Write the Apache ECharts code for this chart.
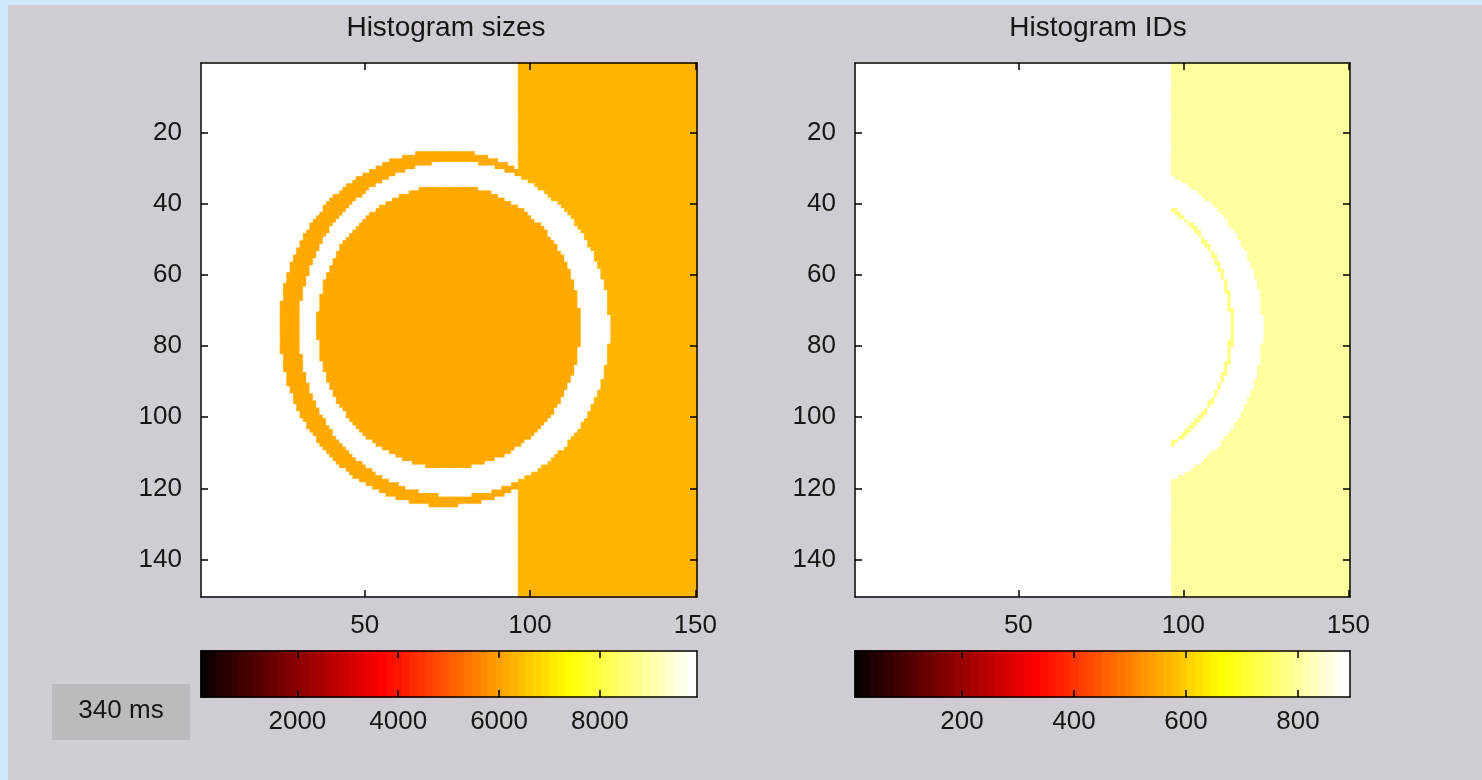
<!DOCTYPE html>
<html>
<head>
<meta charset="utf-8">
<script src="https://cdn.jsdelivr.net/npm/echarts@6/dist/echarts.min.js"></script>
<style>
html,body{margin:0;padding:0;background:#cde9fb;overflow:hidden;}
#panel{position:absolute;left:8px;top:5px;width:1474px;height:775px;background:#d1cbd4;}
#chart{position:absolute;left:0;top:0;width:1482px;height:780px;}
</style>
</head>
<body>
<div id="panel"></div>
<div id="chart"></div>
<script>
// ---- data ----
const imageColumns = 150;
const imageRows = 150;
const stripFirstColumn = 97;               // right band starts at this column
// circles in image cells: [centre column, centre row, radius]
const ringOuterCircle = [74.4, 75.2, 50.0];
const gapOuterCircle = [77.3, 75.4, 46.9];
const diskCircle = [75.6, 74.8, 39.8];
const edgeArcWidth = 1.2;

const sizeLimits = [88, 9926];
const idLimits = [9, 893];
// Histogram sizes: background, band, ring, disk
const sizeRegionValues = [9926, 6300, 6150, 6150];
// Histogram IDs: background, band, disk-edge arc
const idRegionValues = [893, 803, 775];

const imageTicksX = [50, 100, 150];
const imageTicksY = [20, 40, 60, 80, 100, 120, 140];
const sizeBarTicks = [2000, 4000, 6000, 8000];
const idBarTicks = [200, 400, 600, 800];
const panelTitles = ['Histogram sizes', 'Histogram IDs'];
const timerLabel = '340 ms';
const colormapLength = 64;

// ---- build ----
function inside(circle, c, r, shrink) {
  const dx = c - circle[0], dy = r - circle[1], R = circle[2] - (shrink || 0);
  return dx * dx + dy * dy <= R * R;
}
function sizeCell(c, r) {
  if (inside(diskCircle, c, r)) return sizeRegionValues[3];
  if (inside(gapOuterCircle, c, r)) return sizeRegionValues[0];
  if (c >= stripFirstColumn) return sizeRegionValues[1];
  if (inside(ringOuterCircle, c, r)) return sizeRegionValues[2];
  return sizeRegionValues[0];
}
function idCell(c, r) {
  if (c < stripFirstColumn) return idRegionValues[0];
  if (inside(diskCircle, c, r)) {
    return inside(diskCircle, c, r, edgeArcWidth) ? idRegionValues[0] : idRegionValues[2];
  }
  if (inside(gapOuterCircle, c, r)) return idRegionValues[0];
  return idRegionValues[1];
}
function hotColor(k) {
  const cl = v => Math.min(1, Math.max(0, v));
  const r = cl(k / 24), g = cl((k - 24) / 24), b = cl((k - 48) / 16);
  return 'rgb(' + Math.round(r * 255) + ',' + Math.round(g * 255) + ',' + Math.round(b * 255) + ')';
}
function colorIndex(v, lim) {
  const k = Math.floor((v - lim[0]) / (lim[1] - lim[0]) * colormapLength) + 1;
  return Math.min(colormapLength, Math.max(1, k));
}
const colCats = [], rowCats = [];
for (let i = 1; i <= imageColumns; i++) colCats.push(i);
for (let i = 1; i <= imageRows; i++) rowCats.push(i);
function cellItem(c, r, v, lim) {
  // edge drawn in the cell's own colour so neighbouring cells meet without seams
  return { value: [c - 1, r - 1, v], itemStyle: { borderColor: hotColor(colorIndex(v, lim)), borderWidth: 0.8 } };
}
const sizeData = [], idData = [];
for (let r = 1; r <= imageRows; r++) {
  for (let c = 1; c <= imageColumns; c++) {
    sizeData.push(cellItem(c, r, sizeCell(c, r), sizeLimits));
    idData.push(cellItem(c, r, idCell(c, r), idLimits));
  }
}
function pieces(lim) {
  const step = (lim[1] - lim[0]) / colormapLength;
  const out = [];
  for (let k = 1; k <= colormapLength; k++) {
    const p = { gte: lim[0] + (k - 1) * step, color: hotColor(k) };
    if (k === colormapLength) p.lte = lim[1] + 1e-6; else p.lt = lim[0] + k * step;
    out.push(p);
  }
  return out;
}
function barData(lim) {
  const step = (lim[1] - lim[0]) / colormapLength;
  const d = [];
  for (let k = 0; k < colormapLength; k++) {
    d.push({ value: [k, 0, lim[0] + (k + 0.5) * step], itemStyle: { borderColor: hotColor(k + 1), borderWidth: 0.8 } });
  }
  return d;
}
const barCats = [];
for (let k = 1; k <= colormapLength; k++) barCats.push(k);

const FONT = "'Liberation Sans', Arial, Helvetica, sans-serif";
const TXT = '#161616';
const lineStyle = { color: '#000', width: 1.5 };

const G = {
  sizeImg: { left: 201, top: 63, width: 496, height: 534 },
  idImg: { left: 855, top: 63, width: 495, height: 534 },
  sizeBar: { left: 201, top: 651, width: 496, height: 46 },
  idBar: { left: 855, top: 651, width: 495, height: 46 }
};
const grids = [G.sizeImg, G.sizeImg, G.idImg, G.idImg, G.sizeBar, G.sizeBar, G.idBar, G.idBar]
  .map((g, i) => Object.assign({ containLabel: false, outerBoundsMode: 'none',
    show: i === 0 || i === 2, backgroundColor: '#ffffff', borderWidth: 0 }, g));

function hiddenCat(gridIndex, data, inverse) {
  return { type: 'category', gridIndex, data, show: false, inverse: !!inverse, boundaryGap: true };
}
function tickAxis(gridIndex, position, min, max, ticks, showLabels, inverse, margin) {
  return {
    type: 'value', gridIndex, position, min, max, inverse: !!inverse, z: 10,
    axisLine: { show: true, onZero: false, lineStyle },
    axisTick: { show: !!ticks, inside: true, length: 7, lineStyle, customValues: ticks || [] },
    axisLabel: {
      show: showLabels, customValues: ticks || [], color: TXT, fontSize: 26, fontFamily: FONT,
      margin: margin, hideOverlap: false, formatter: v => String(v)
    },
    splitLine: { show: false }
  };
}

const xAxis = [
  hiddenCat(0, colCats),
  tickAxis(1, 'bottom', 0.5, imageColumns + 0.5, imageTicksX, true, false, 16),
  tickAxis(1, 'top', 0.5, imageColumns + 0.5, imageTicksX, false),
  hiddenCat(2, colCats),
  tickAxis(3, 'bottom', 0.5, imageColumns + 0.5, imageTicksX, true, false, 16),
  tickAxis(3, 'top', 0.5, imageColumns + 0.5, imageTicksX, false),
  hiddenCat(4, barCats),
  tickAxis(5, 'bottom', sizeLimits[0], sizeLimits[1], sizeBarTicks, true, false, 12),
  tickAxis(5, 'top', sizeLimits[0], sizeLimits[1], sizeBarTicks, false),
  hiddenCat(6, barCats),
  tickAxis(7, 'bottom', idLimits[0], idLimits[1], idBarTicks, true, false, 12),
  tickAxis(7, 'top', idLimits[0], idLimits[1], idBarTicks, false)
];
const yAxis = [
  hiddenCat(0, rowCats, true),
  tickAxis(1, 'left', 0.5, imageRows + 0.5, imageTicksY, true, true, 19),
  tickAxis(1, 'right', 0.5, imageRows + 0.5, imageTicksY, false, true),
  hiddenCat(2, rowCats, true),
  tickAxis(3, 'left', 0.5, imageRows + 0.5, imageTicksY, true, true, 19),
  tickAxis(3, 'right', 0.5, imageRows + 0.5, imageTicksY, false, true),
  hiddenCat(4, [1]),
  tickAxis(5, 'left', 0, 1, null, false),
  tickAxis(5, 'right', 0, 1, null, false),
  hiddenCat(6, [1]),
  tickAxis(7, 'left', 0, 1, null, false),
  tickAxis(7, 'right', 0, 1, null, false)
];

function heat(xi, data) {
  return {
    type: 'heatmap', xAxisIndex: xi, yAxisIndex: xi, data, silent: true,
    progressive: 0, emphasis: { disabled: true }
  };
}

const option = {
  animation: false,
  grid: grids,
  xAxis, yAxis,
  visualMap: [
    { type: 'piecewise', show: false, seriesIndex: [0, 2], dimension: 2, pieces: pieces(sizeLimits) },
    { type: 'piecewise', show: false, seriesIndex: [1, 3], dimension: 2, pieces: pieces(idLimits) }
  ],
  series: [
    heat(0, sizeData),
    heat(3, idData),
    heat(6, barData(sizeLimits)),
    heat(9, barData(idLimits))
  ],
  graphic: [
    { type: 'text', x: 446, y: 28, style: { text: panelTitles[0], font: '28px ' + FONT, fill: TXT, align: 'center', verticalAlign: 'middle' } },
    { type: 'text', x: 1098, y: 28, style: { text: panelTitles[1], font: '28px ' + FONT, fill: TXT, align: 'center', verticalAlign: 'middle' } },
    { type: 'rect', shape: { x: 52, y: 684, width: 138, height: 56 }, style: { fill: '#bdb9bf' } },
    { type: 'text', x: 121, y: 711, style: { text: timerLabel, font: '26px ' + FONT, fill: TXT, align: 'center', verticalAlign: 'middle' } }
  ]
};
const chart = echarts.init(document.getElementById('chart'), null, { renderer: 'canvas' });
chart.setOption(option);
</script>
</body>
</html>
